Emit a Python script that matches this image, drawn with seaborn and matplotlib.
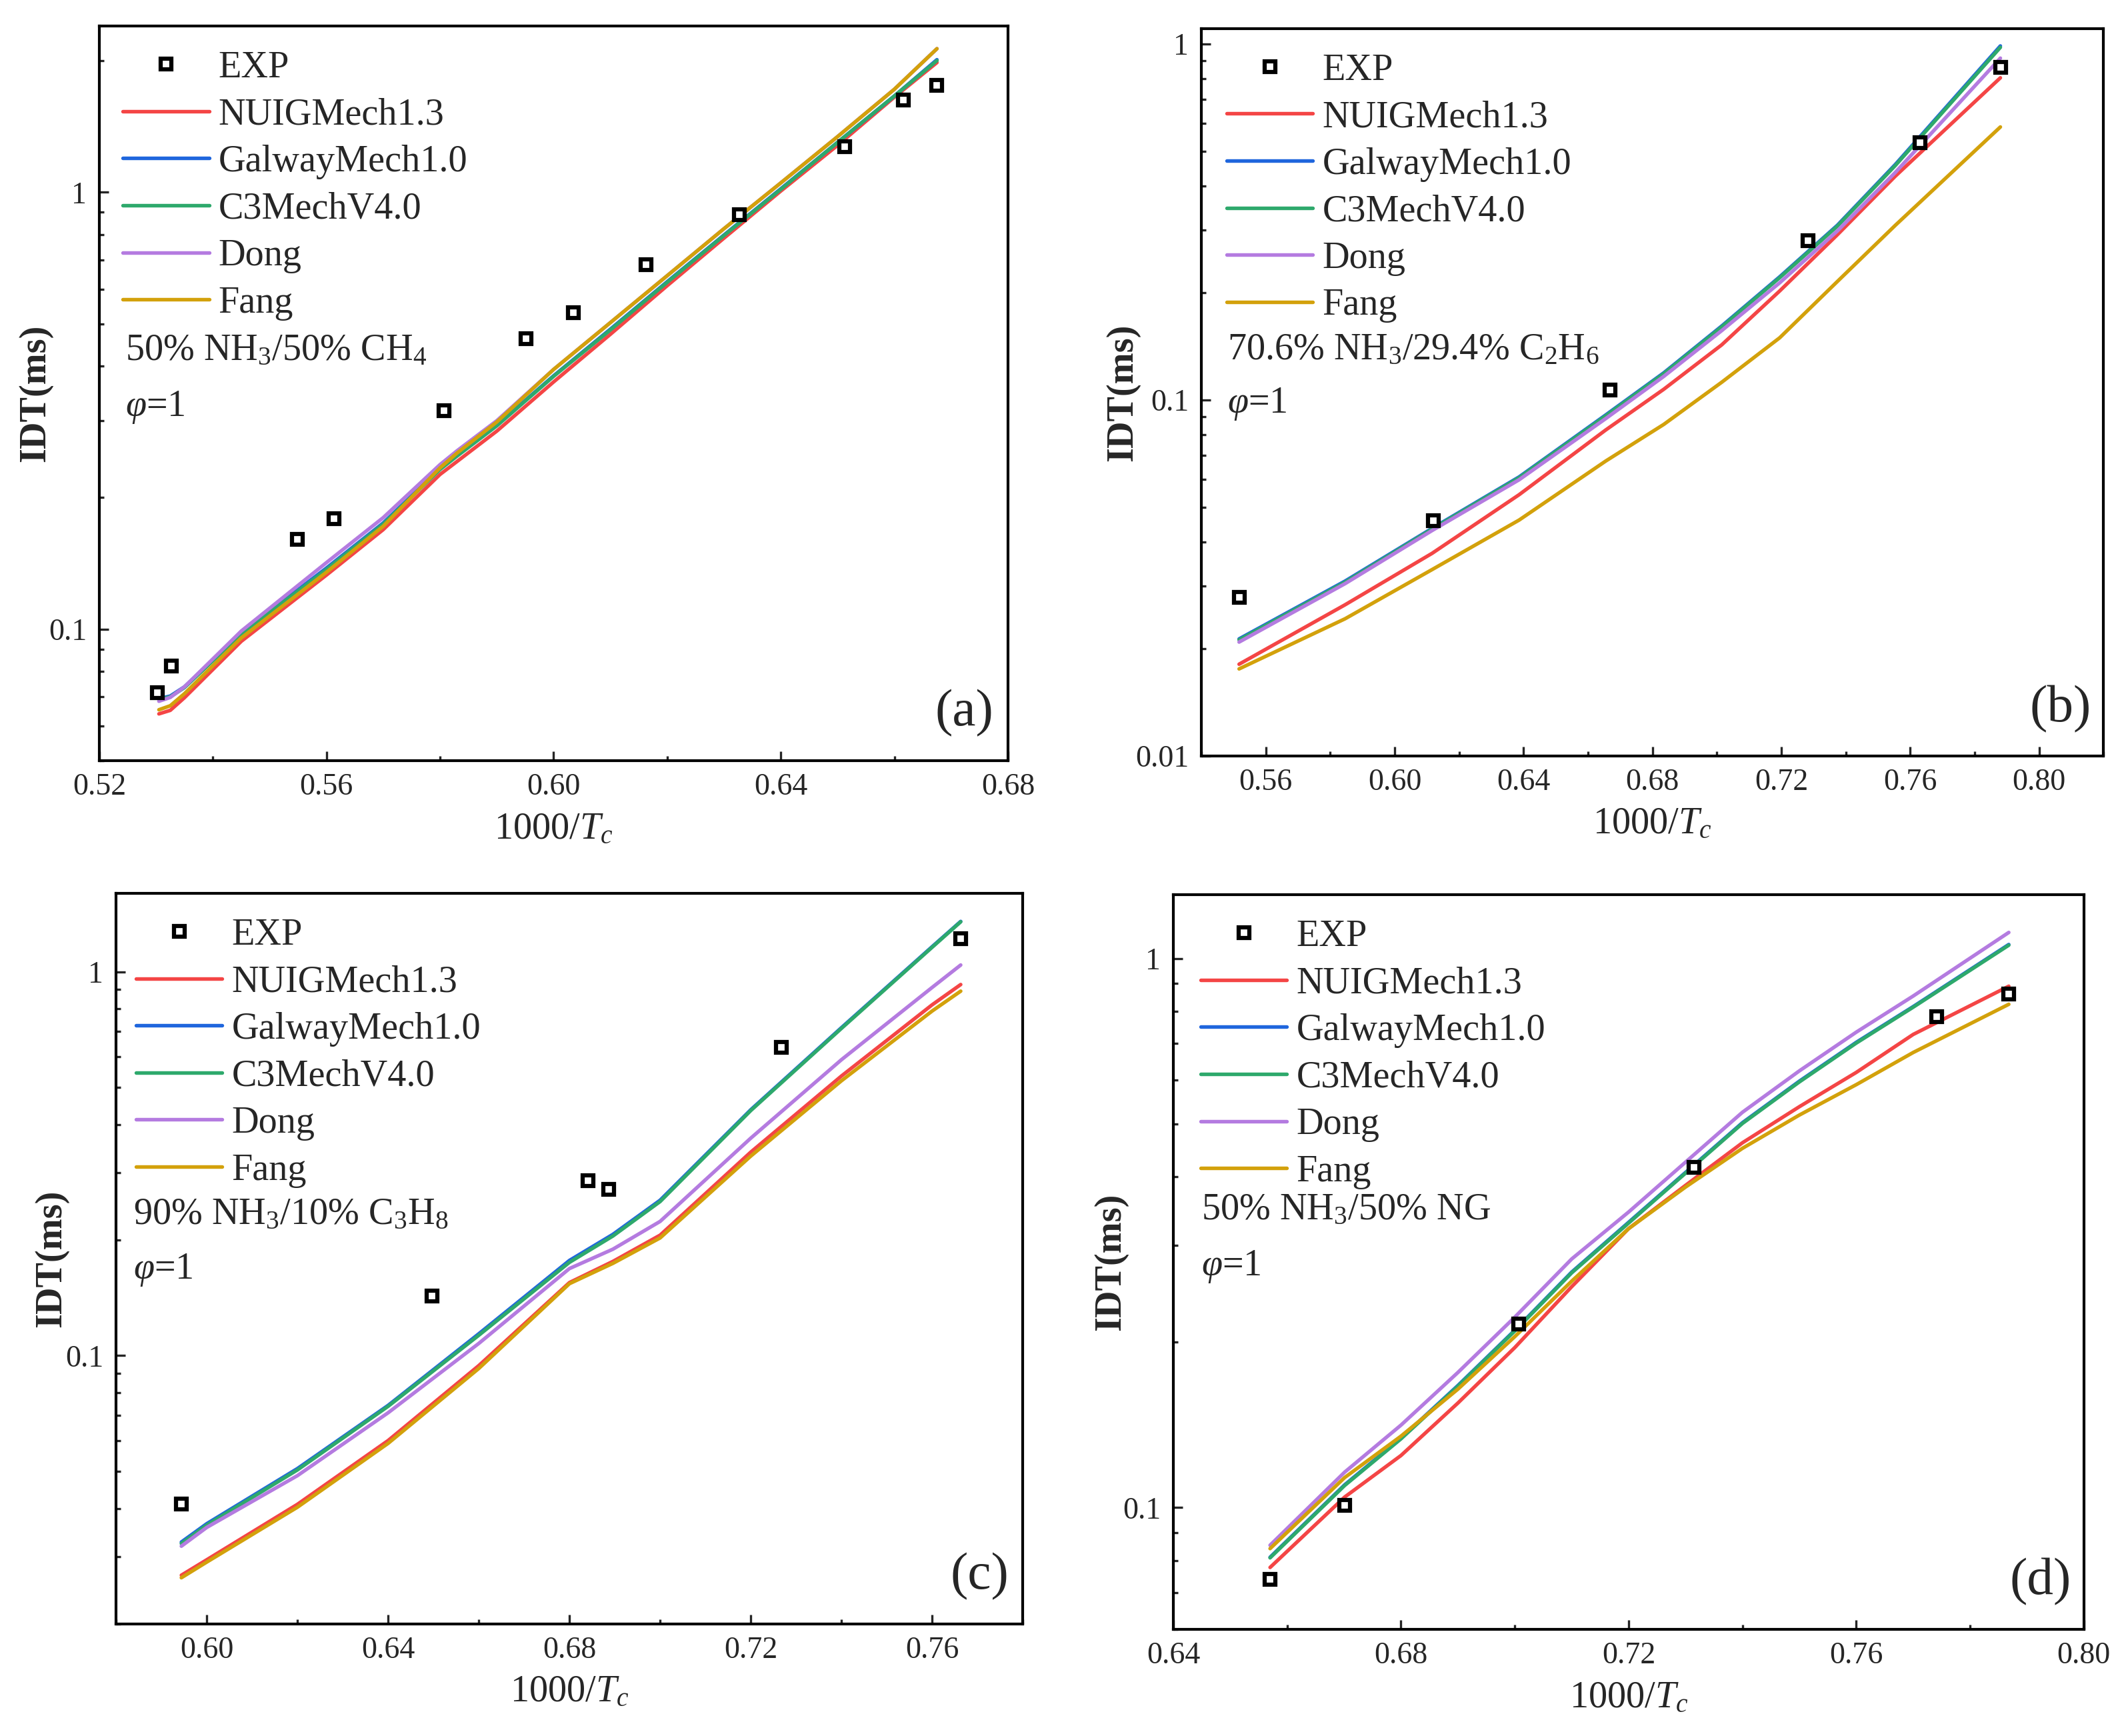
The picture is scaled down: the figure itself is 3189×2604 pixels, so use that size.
import matplotlib
matplotlib.use("Agg")
from matplotlib import pyplot as plt
from matplotlib.lines import Line2D
from matplotlib.ticker import LogLocator, NullFormatter, FuncFormatter, MultipleLocator
import pandas as pd
import seaborn as sns

sns.set_style("ticks")
plt.rcParams['font.family'] = ['Liberation Serif', 'DejaVu Serif']
plt.rcParams['mathtext.fontset'] = 'custom'
plt.rcParams['mathtext.rm'] = 'Liberation Serif'
plt.rcParams['mathtext.it'] = 'Liberation Serif:italic'
plt.rcParams['mathtext.bf'] = 'Liberation Serif:bold'

mechs = ["NUIGMech1.3", "GalwayMech1.0", "C3MechV4.0", "Dong", "Fang"]
colors = ["#F44545", "#1F66DD", "#2EA96C", "#B47BE0", "#D3A10B"]

# (a) 50% NH3/50% CH4
a_exp_x = [0.5302, 0.5327, 0.5549, 0.5613, 0.5807, 0.5951, 0.6035, 0.6163, 0.6327, 0.6513, 0.6616, 0.6674]
a_exp_y = [0.0716, 0.0823, 0.1607, 0.179, 0.3167, 0.4624, 0.530, 0.683, 0.887, 1.27, 1.626, 1.759]
a_x = [0.5305, 0.5325, 0.535, 0.545, 0.56, 0.57, 0.58, 0.583, 0.59, 0.60, 0.61, 0.62, 0.63, 0.64, 0.65, 0.66, 0.6675]
a_nuig = [0.0640, 0.0652, 0.0697, 0.0938, 0.133, 0.169, 0.226, 0.242, 0.284, 0.368, 0.473, 0.611, 0.785, 1.006, 1.28, 1.65, 1.98]
a_galway = [0.0693, 0.0703, 0.0738, 0.0980, 0.138, 0.175, 0.233, 0.250, 0.293, 0.380, 0.486, 0.624, 0.798, 1.018, 1.30, 1.66, 2.01]
a_c3 = [0.0690, 0.0700, 0.0735, 0.0975, 0.137, 0.174, 0.232, 0.249, 0.292, 0.379, 0.484, 0.622, 0.796, 1.015, 1.30, 1.66, 2.00]
a_dong = [0.0684, 0.0698, 0.0738, 0.0990, 0.142, 0.180, 0.238, 0.256, 0.300, 0.393, 0.503, 0.644, 0.825, 1.05, 1.34, 1.72, 2.13]
a_fang = [0.0654, 0.0668, 0.0712, 0.0955, 0.135, 0.172, 0.234, 0.253, 0.298, 0.393, 0.503, 0.644, 0.825, 1.05, 1.34, 1.72, 2.13]

# (b) 70.6% NH3/29.4% C2H6
b_exp_x = [0.5517, 0.612, 0.6668, 0.7283, 0.763, 0.788]
b_exp_y = [0.0279, 0.0459, 0.1066, 0.280, 0.529, 0.859]
b_x = [0.5517, 0.5846, 0.6116, 0.6386, 0.6655, 0.6835, 0.7015, 0.7195, 0.7374, 0.7554, 0.788]
b_nuig = [0.01811, 0.0266, 0.0371, 0.0542, 0.0824, 0.1072, 0.1429, 0.2025, 0.2913, 0.4256, 0.804]
b_galway = [0.02133, 0.0310, 0.0436, 0.0608, 0.0908, 0.1192, 0.1614, 0.2219, 0.3097, 0.459, 0.988]
b_c3 = [0.0212, 0.0308, 0.0434, 0.0605, 0.0903, 0.1186, 0.1605, 0.2207, 0.308, 0.456, 0.979]
b_dong = [0.0209, 0.0305, 0.0430, 0.0597, 0.0887, 0.1165, 0.1567, 0.2135, 0.2985, 0.436, 0.913]
b_fang = [0.01757, 0.0243, 0.0334, 0.046, 0.0674, 0.0854, 0.1122, 0.1496, 0.2153, 0.3097, 0.585]

# (c) 90% NH3/10% C3H8
c_exp_x = [0.5944, 0.6497, 0.6841, 0.6887, 0.7268, 0.7663]
c_exp_y = [0.041, 0.1428, 0.2852, 0.2714, 0.636, 1.221]
c_x = [0.5944, 0.60, 0.62, 0.64, 0.66, 0.68, 0.6896, 0.70, 0.72, 0.74, 0.76, 0.7663]
c_nuig = [0.0268, 0.0294, 0.041, 0.0601, 0.0942, 0.155, 0.176, 0.206, 0.339, 0.535, 0.82, 0.926]
c_galway = [0.0327, 0.0365, 0.0508, 0.0742, 0.114, 0.177, 0.207, 0.254, 0.437, 0.715, 1.162, 1.352]
c_c3 = [0.0324, 0.0362, 0.0504, 0.0738, 0.113, 0.175, 0.205, 0.252, 0.435, 0.712, 1.158, 1.349]
c_dong = [0.0319, 0.0357, 0.0487, 0.071, 0.1076, 0.1686, 0.1894, 0.2237, 0.3686, 0.59, 0.91, 1.041]
c_fang = [0.0264, 0.029, 0.0403, 0.0591, 0.0926, 0.154, 0.174, 0.2026, 0.331, 0.52, 0.79, 0.89]

# (d) 50% NH3/50% NG
d_exp_x = [0.657, 0.6701, 0.7007, 0.7315, 0.7741, 0.7868]
d_exp_y = [0.074, 0.101, 0.2162, 0.416, 0.784, 0.862]
d_x = [0.657, 0.6701, 0.68, 0.69, 0.70, 0.71, 0.72, 0.73, 0.74, 0.75, 0.76, 0.77, 0.7868]
d_nuig = [0.0778, 0.1045, 0.1244, 0.155, 0.1956, 0.2525, 0.3221, 0.3861, 0.4616, 0.537, 0.620, 0.727, 0.89]
d_galway = [0.0812, 0.1100, 0.1338, 0.1668, 0.2103, 0.2684, 0.3307, 0.4076, 0.5021, 0.5976, 0.7033, 0.817, 1.060]
d_c3 = [0.081, 0.1097, 0.1334, 0.1663, 0.2097, 0.2676, 0.3297, 0.4064, 0.5006, 0.5958, 0.7012, 0.815, 1.057]
d_dong = [0.0854, 0.116, 0.1413, 0.1762, 0.2222, 0.2836, 0.3453, 0.4256, 0.5246, 0.624, 0.734, 0.854, 1.115]
d_fang = [0.0842, 0.1134, 0.1349, 0.1643, 0.2048, 0.2584, 0.3221, 0.3834, 0.451, 0.5185, 0.589, 0.674, 0.825]

panels = [
    dict(rect=[0.0467, 0.5618, 0.4274, 0.4232], exp_x=a_exp_x, exp_y=a_exp_y, x=a_x,
         curves=[a_nuig, a_galway, a_c3, a_dong, a_fang], xlim=(0.52, 0.68), ylim=(0.05, 2.4),
         mix="50% NH$_3$/50% CH$_4$", tag="(a)", mix_pos=(0.029, 0.558), phi_y=0.481,
         ylab_x=-0.070, leg_x=0.026),
    dict(rect=[0.5651, 0.5645, 0.4243, 0.4190], exp_x=b_exp_x, exp_y=b_exp_y, x=b_x,
         curves=[b_nuig, b_galway, b_c3, b_dong, b_fang], xlim=(0.54, 0.82), ylim=(0.01, 1.105),
         mix="70.6% NH$_3$/29.4% C$_2$H$_6$", tag="(b)", mix_pos=(0.029, 0.558), phi_y=0.484,
         ylab_x=-0.087, leg_x=0.028),
    dict(rect=[0.0546, 0.0645, 0.4265, 0.4209], exp_x=c_exp_x, exp_y=c_exp_y, x=c_x,
         curves=[c_nuig, c_galway, c_c3, c_dong, c_fang], xlim=(0.58, 0.78), ylim=(0.02, 1.6),
         mix="90% NH$_3$/10% C$_3$H$_8$", tag="(c)", mix_pos=(0.019, 0.560), phi_y=0.4845,
         ylab_x=-0.071, leg_x=0.022),
    dict(rect=[0.5519, 0.0614, 0.4283, 0.4232], exp_x=d_exp_x, exp_y=d_exp_y, x=d_x,
         curves=[d_nuig, d_galway, d_c3, d_dong, d_fang], xlim=(0.64, 0.80), ylim=(0.06, 1.306),
         mix="50% NH$_3$/50% NG", tag="(d)", mix_pos=(0.031, 0.571), phi_y=0.494,
         ylab_x=-0.069, leg_x=0.030),
]

fig = plt.figure(figsize=(3189 / 300, 2604 / 300), dpi=300)

for p in panels:
    ax = fig.add_axes(p["rect"])
    rows = []
    for m, ys in zip(mechs, p["curves"]):
        for xv, yv in zip(p["x"], ys):
            rows.append({"x": xv, "idt": yv, "mech": m})
    df = pd.DataFrame(rows)
    sns.lineplot(data=df, x="x", y="idt", hue="mech", hue_order=mechs,
                 palette=dict(zip(mechs, colors)), linewidth=1.3, legend=False,
                 estimator=None, sort=False, ax=ax)
    ax.plot(p["exp_x"], p["exp_y"], ls="none", marker="s", ms=4, mfc="white",
            mec="black", mew=1.5, zorder=5)

    ax.set_yscale("log")
    ax.set_xlim(*p["xlim"])
    ax.set_ylim(*p["ylim"])
    ax.xaxis.set_major_locator(MultipleLocator(0.04))
    ax.xaxis.set_minor_locator(MultipleLocator(0.02))
    ax.xaxis.set_major_formatter(FuncFormatter(lambda v, pos: "%.2f" % v))
    ax.yaxis.set_major_locator(LogLocator(base=10, numticks=10))
    ax.yaxis.set_minor_locator(LogLocator(base=10, subs=range(2, 10), numticks=20))
    ax.yaxis.set_major_formatter(FuncFormatter(lambda v, pos: "%g" % v))
    ax.yaxis.set_minor_formatter(NullFormatter())
    ax.tick_params(which="both", direction="in", top=False, right=False, width=0.8,
                   labelsize=11, pad=4.5)
    ax.tick_params(which="major", length=3.4)
    ax.tick_params(which="minor", length=1.7)
    for s in ax.spines.values():
        s.set_linewidth(1.0)
        s.set_color("black")

    ax.set_xlabel("1000/$T_c$", fontsize=13.5, va="center")
    ax.xaxis.set_label_coords(0.5, -0.0935)
    ax.set_ylabel("IDT(ms)", fontsize=13.5, fontweight="bold", va="center")
    ax.yaxis.set_label_coords(p["ylab_x"], 0.5)

    handles = [Line2D([], [], ls="none", marker="s", ms=4, mfc="white", mec="black", mew=1.5)]
    handles += [Line2D([], [], color=c, lw=1.3) for c in colors]
    ax.legend(handles, ["EXP"] + mechs, loc="upper left", bbox_to_anchor=(p["leg_x"], 0.9665),
              frameon=False, fontsize=13.5, handlelength=2.3, handletextpad=0.25,
              labelspacing=0.33, borderpad=0, borderaxespad=0)

    ax.text(p["mix_pos"][0], p["mix_pos"][1], p["mix"], transform=ax.transAxes,
            fontsize=13.5, ha="left", va="center")
    ax.text(p["mix_pos"][0], p["phi_y"], r"$\varphi$=1", transform=ax.transAxes,
            fontsize=13.5, ha="left", va="center")
    ax.text(0.952, 0.065, p["tag"], transform=ax.transAxes, fontsize=19,
            ha="center", va="center")

fig.savefig("out.png", dpi=300)
